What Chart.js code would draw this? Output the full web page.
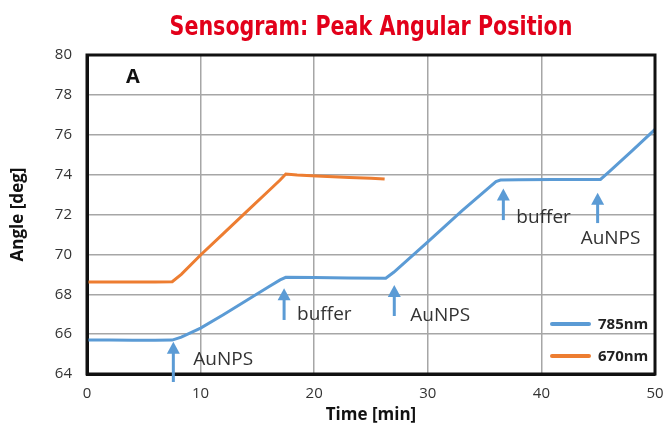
<!DOCTYPE html>
<html><head><meta charset="utf-8">
<script src="https://cdn.jsdelivr.net/npm/chart.js@4.4.1/dist/chart.umd.min.js"></script>
<style>html,body{margin:0;padding:0;background:#fff;}</style>
</head><body>
<canvas id="c" width="665" height="430" style="width:665px;height:430px;display:block"></canvas>
<script>
// ---- data ----
const chartTitle = 'Sensogram: Peak Angular Position';
const panelLabel = 'A';
const xTitle = 'Time [min]';
const yTitle = 'Angle [deg]';
const xTickValues = [0, 10, 20, 30, 40, 50];
const yTickValues = [64, 66, 68, 70, 72, 74, 76, 78, 80];
const seriesNames = ['785nm', '670nm'];
const time785 = [0, 2, 4, 6, 7.5, 8.3, 10, 12, 14, 16, 17.0, 17.5, 20, 23, 26.3, 27, 30, 33, 36.0, 36.4, 38, 41, 43, 45.2, 46, 48, 50];
const angle785 = [65.70, 65.70, 65.69, 65.69, 65.70, 65.85, 66.30, 66.97, 67.67, 68.38, 68.72, 68.85, 68.84, 68.82, 68.80, 69.10, 70.63, 72.18, 73.65, 73.73, 73.74, 73.75, 73.75, 73.76, 74.16, 75.20, 76.27];
const time670 = [0, 3, 6, 7.5, 8.3, 10, 12, 14, 16, 17.0, 17.5, 18.5, 20.2, 23.1, 25, 26.2];
const angle670 = [68.62, 68.62, 68.61, 68.63, 69.00, 69.97, 71.04, 72.12, 73.19, 73.73, 74.03, 73.98, 73.93, 73.86, 73.82, 73.78];
const eventTimes = [7.6, 17.35, 27.05, 36.65, 44.95];
const eventLabels = ['AuNPS', 'buffer', 'AuNPS', 'buffer', 'AuNPS'];

// ---- annotation layout (arrow tip/tail and label position, in axis units / px offsets) ----
const eventTipY = [65.62, 68.30, 68.46, 73.31, 73.09];
const eventTailY = [63.60, 66.71, 66.91, 71.72, 71.57];
const eventTextY = [64.70, 66.96, 66.91, 71.82, 70.77];
const eventTextDx = [20, 13, 16, 13, -17];

const BLUE = '#5b9bd5', ORANGE = '#ed7d31';
const TXT = '#333333';
const BASE = '"Open Sans", "Noto Sans", sans-serif';

const overlay = {
  id: 'overlay',
  afterDatasetsDraw(chart) {
    const {ctx, chartArea: a, scales: {x, y}} = chart;
    ctx.save();
    // frame
    ctx.strokeStyle = '#111';
    ctx.lineWidth = 3;
    ctx.strokeRect(a.left, a.top, a.right - a.left, a.bottom - a.top);
    // panel label
    ctx.fillStyle = '#111';
    ctx.font = 'bold 20px ' + BASE;
    ctx.textAlign = 'center';
    ctx.textBaseline = 'middle';
    ctx.fillText(panelLabel, 133, 77);
    // legend (anchored to the chart area's lower right corner)
    ctx.font = 'bold 15px ' + BASE;
    ctx.textAlign = 'left';
    chart.data.datasets.forEach((ds, i) => {
      const ly = a.bottom - 50 + i * 32;
      const lx = a.right - 103;
      ctx.strokeStyle = ds.borderColor;
      ctx.lineWidth = 4;
      ctx.lineCap = 'round';
      ctx.beginPath(); ctx.moveTo(lx, ly); ctx.lineTo(lx + 37, ly); ctx.stroke();
      ctx.fillStyle = '#222';
      ctx.fillText(ds.label, lx + 46, ly + 1);
    });
    // event arrows
    ctx.lineCap = 'butt';
    eventTimes.forEach((t, i) => {
      const px = x.getPixelForValue(t);
      const tip = y.getPixelForValue(eventTipY[i]);
      const tail = y.getPixelForValue(eventTailY[i]);
      ctx.strokeStyle = BLUE; ctx.fillStyle = BLUE;
      ctx.lineWidth = 3;
      ctx.beginPath(); ctx.moveTo(px, tail); ctx.lineTo(px, tip + 9); ctx.stroke();
      ctx.beginPath(); ctx.moveTo(px, tip); ctx.lineTo(px - 6.5, tip + 12); ctx.lineTo(px + 6.5, tip + 12); ctx.closePath(); ctx.fill();
      ctx.fillStyle = TXT;
      ctx.font = '19px ' + BASE;
      ctx.textAlign = 'left';
      ctx.textBaseline = 'middle';
      ctx.fillText(eventLabels[i], px + eventTextDx[i], y.getPixelForValue(eventTextY[i]));
    });
    // title (condensed)
    ctx.fillStyle = '#e2001a';
    ctx.font = 'bold 27px "Liberation Sans Narrow", "DejaVu Sans Condensed", "Roboto", sans-serif';
    ctx.textAlign = 'center';
    ctx.textBaseline = 'middle';
    ctx.translate((a.left + a.right) / 2, 28);
    ctx.scale(0.85, 1);
    ctx.fillText(chartTitle, 0, 0);
    ctx.restore();
  }
};

function zeroPad(s) { s.paddingLeft = 0; s.paddingRight = 0; s.paddingTop = 0; s.paddingBottom = 0; }

new Chart(document.getElementById('c'), {
  type: 'line',
  data: {
    datasets: [
      { label: seriesNames[0], data: time785.map((t, i) => ({x: t, y: angle785[i]})), borderColor: BLUE, backgroundColor: BLUE, borderWidth: 3, pointRadius: 0, tension: 0, fill: false },
      { label: seriesNames[1], data: time670.map((t, i) => ({x: t, y: angle670[i]})), borderColor: ORANGE, backgroundColor: ORANGE, borderWidth: 3, pointRadius: 0, tension: 0, fill: false }
    ]
  },
  options: {
    responsive: false,
    animation: false,
    devicePixelRatio: 1,
    layout: { padding: { top: 55, right: 10, left: 0, bottom: 0 } },
    plugins: { legend: { display: false }, tooltip: { enabled: false }, title: { display: false } },
    scales: {
      x: {
        type: 'linear', min: 0, max: 50,
        afterBuildTicks: s => { s.ticks = xTickValues.map(v => ({value: v})); },
        afterFit: s => { s.height = 56; zeroPad(s); },
        grid: { color: '#a6a6a6', lineWidth: 1.5, drawTicks: false },
        border: { display: true, color: '#111', width: 3 },
        ticks: { color: TXT, font: { family: BASE, size: 15 }, padding: 11, maxRotation: 0 },
        title: { display: true, text: xTitle, color: '#111', font: { family: BASE, size: 17, weight: 'bold' }, padding: { top: 0, bottom: 5 } }
      },
      y: {
        type: 'linear', min: 64, max: 80,
        afterBuildTicks: s => { s.ticks = yTickValues.map(v => ({value: v})); },
        afterFit: s => { s.width = 87; zeroPad(s); },
        grid: { color: '#a6a6a6', lineWidth: 1.5, drawTicks: false },
        border: { display: true, color: '#111', width: 3 },
        ticks: { color: TXT, font: { family: BASE, size: 15 }, padding: 15 },
        title: { display: true, text: yTitle, color: '#111', font: { family: BASE, size: 17, weight: 'bold' }, padding: { top: 8, bottom: 0 } }
      }
    }
  },
  plugins: [overlay]
});
</script>
</body></html>
